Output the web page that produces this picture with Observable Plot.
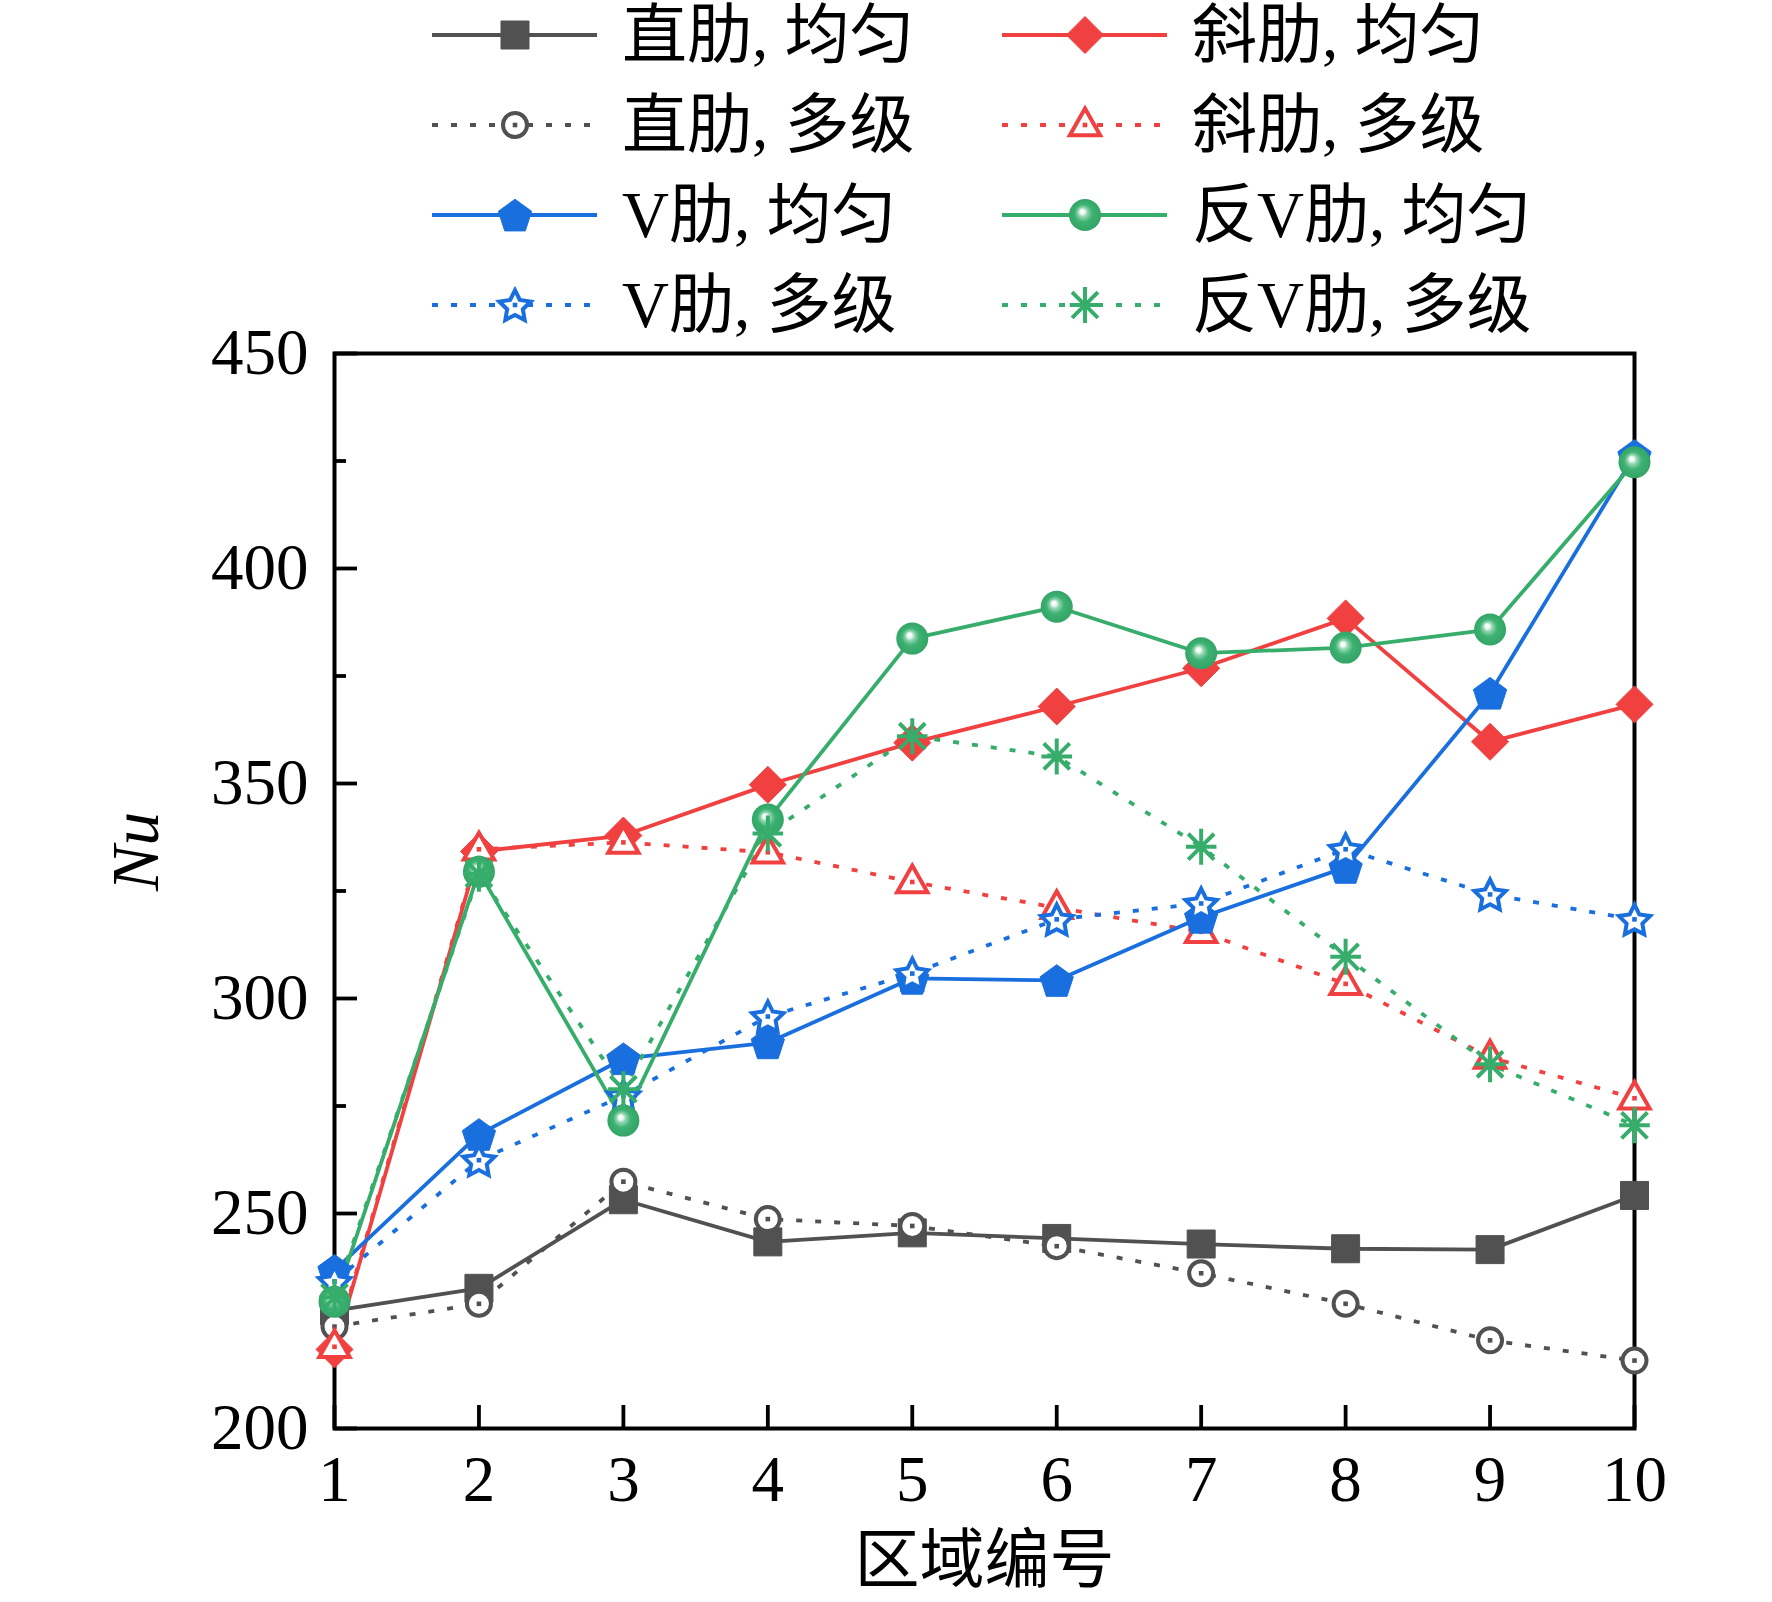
<!DOCTYPE html>
<html>
<head>
<meta charset="utf-8">
<script src="https://cdn.jsdelivr.net/npm/d3@7"></script>
<script src="https://cdn.jsdelivr.net/npm/@observablehq/plot@0.6"></script>
<style>
  body { margin: 0; background: white; width: 1772px; height: 1602px; overflow: hidden; }
  #legend { position: relative; height: 320px; z-index: 2; font-family: "Liberation Serif", "Noto Sans CJK SC", serif; font-size: 65px; color: #000; }
  .item { position: absolute; display: flex; align-items: center; height: 90px; }
  .item span { margin-left: 25px; line-height: 1; white-space: pre; }
  #chart svg { background: transparent !important; overflow: visible; }
</style>
</head>
<body>
<svg width="0" height="0" style="position:absolute">
  <defs>
    <radialGradient id="sphere" cx="50%" cy="50%" r="50%" fx="40%" fy="38%">
      <stop offset="0%" stop-color="#ffffff"/>
      <stop offset="14%" stop-color="#f0faf4"/>
      <stop offset="30%" stop-color="#8fd4ad"/>
      <stop offset="55%" stop-color="#3db273"/>
      <stop offset="100%" stop-color="#33a465"/>
    </radialGradient>
  </defs>
</svg>
<div id="legend"></div>
<div id="chart"></div>
<script>
// ---------- data ----------
const zones = [1, 2, 3, 4, 5, 6, 7, 8, 9, 10];
const straightUniform = [227.4, 232.6, 253.2, 243.4, 245.5, 244.2, 242.9, 241.8, 241.6, 254.2];
const straightMulti   = [223.7, 229.0, 257.4, 248.7, 247.1, 242.4, 236.1, 229.0, 220.5, 215.8];
const slantUniform    = [218.4, 334.2, 337.9, 349.7, 359.5, 367.9, 376.8, 388.4, 359.7, 368.4];
const slantMulti      = [219.0, 334.7, 336.3, 334.0, 327.1, 321.1, 315.5, 303.4, 286.3, 276.8];
const vUniform        = [236.8, 268.4, 286.0, 289.7, 304.7, 304.2, 318.9, 330.5, 371.0, 426.3];
const vMulti          = [234.2, 262.4, 277.4, 295.8, 305.8, 318.4, 322.1, 334.7, 324.2, 318.4];
const invVUniform     = [229.5, 329.5, 271.6, 341.6, 383.7, 391.1, 380.3, 381.6, 385.8, 424.7];
const invVMulti       = [230.5, 329.0, 278.9, 338.4, 361.0, 356.3, 335.3, 309.7, 284.7, 270.5];
const seriesNames = ["直肋, 均匀", "直肋, 多级", "斜肋, 均匀", "斜肋, 多级", "V肋, 均匀", "V肋, 多级", "反V肋, 均匀", "反V肋, 多级"];
const xTicks = [1, 2, 3, 4, 5, 6, 7, 8, 9, 10];
const yTicks = [200, 250, 300, 350, 400, 450];
const yMinorTicks = [225, 275, 325, 375, 425];

// ---------- symbols ----------
const R = s => Math.sqrt(s / Math.PI);
const symSquare = {draw(c, s) { const r = R(s); c.rect(-r, -r, 2 * r, 2 * r); }};
const symDiamond = {draw(c, s) { const r = R(s); c.moveTo(0, -r); c.lineTo(r, 0); c.lineTo(0, r); c.lineTo(-r, 0); c.closePath(); }};
const symPentagon = {draw(c, s) { const r = R(s); for (let i = 0; i < 5; i++) { const a = -Math.PI / 2 + i * 2 * Math.PI / 5; const x = r * Math.cos(a), y = r * Math.sin(a) + r * 0.1; i ? c.lineTo(x, y) : c.moveTo(x, y); } c.closePath(); }};
const symCircle = {draw(c, s) { const r = R(s); c.moveTo(r, 0); c.arc(0, 0, r, 0, 2 * Math.PI); }};
const symTriangle = {draw(c, s) { const r = R(s); c.moveTo(0, -r); c.lineTo(r * 0.92, r * 0.62); c.lineTo(-r * 0.92, r * 0.62); c.closePath(); }};
const symStar = {draw(c, s) { const r = R(s), ri = r * 0.5; for (let i = 0; i < 10; i++) { const a = -Math.PI / 2 + i * Math.PI / 5; const rr = i % 2 ? ri : r; const x = rr * Math.cos(a), y = rr * Math.sin(a) + r * 0.1; i ? c.lineTo(x, y) : c.moveTo(x, y); } c.closePath(); }};
const symAsterisk = {draw(c, s) { const r = R(s), d = r * 0.72; c.moveTo(0, -r); c.lineTo(0, r); c.moveTo(-r * 0.85, 0); c.lineTo(r * 0.85, 0); c.moveTo(-d, -d); c.lineTo(d, d); c.moveTo(d, -d); c.lineTo(-d, d); }};

const GRAY = "#515151", RED = "#F14040", BLUE = "#1A6FDF", GREEN = "#37AD6B";
const DOT = "6,13";
const LW = 3.8;

const styles = [
  {name: seriesNames[0], values: straightUniform, color: GRAY, dash: null, sym: symSquare, r: 14, fill: GRAY, open: false},
  {name: seriesNames[1], values: straightMulti, color: GRAY, dash: DOT, sym: symCircle, r: 12, fill: "white", open: true},
  {name: seriesNames[2], values: slantUniform, color: RED, dash: null, sym: symDiamond, r: 18.5, fill: RED, open: false},
  {name: seriesNames[3], values: slantMulti, color: RED, dash: DOT, sym: symTriangle, r: 16.5, fill: "white", open: true},
  {name: seriesNames[4], values: vUniform, color: BLUE, dash: null, sym: symPentagon, r: 17.5, fill: BLUE, open: false},
  {name: seriesNames[5], values: vMulti, color: BLUE, dash: DOT, sym: symStar, r: 16.5, fill: "white", open: true},
  {name: seriesNames[6], values: invVUniform, color: GREEN, dash: null, sym: symCircle, r: 16, fill: "url(#sphere)", open: false, sphere: true},
  {name: seriesNames[7], values: invVMulti, color: GREEN, dash: DOT, sym: symAsterisk, r: 18, fill: "none", open: false, asterisk: true}
];

const table = styles.flatMap(s => zones.map((z, i) => ({series: s.name, zone: z, nu: s.values[i]})));

// ---------- marks ----------
const lineMarks = styles.map(s => Plot.line(table.filter(d => d.series === s.name), {
  x: "zone", y: "nu", stroke: s.color, strokeWidth: LW,
  strokeDasharray: s.dash, strokeLinecap: "butt"
}));
const dotMarks = styles.flatMap(s => {
  const data = table.filter(d => d.series === s.name);
  const m = [Plot.dot(data, {
    x: "zone", y: "nu", symbol: s.sym, r: s.r,
    fill: s.fill,
    stroke: s.open || s.asterisk ? s.color : (s.sphere ? "none" : s.color),
    strokeWidth: s.open || s.asterisk ? 4 : 1
  })];
  if (s.open) m.push(Plot.dot(data, {x: "zone", y: "nu", symbol: symSquare, r: 2.3, fill: s.color}));
  return m;
});

const chart = Plot.plot({
  width: 1772,
  height: 1282,
  marginLeft: 334,
  marginRight: 138,
  marginTop: 33,
  marginBottom: 174,
  x: {domain: [1, 10], axis: null, label: null},
  y: {domain: [200, 450], axis: null, label: null},
  style: {fontFamily: "Liberation Serif, serif", fontSize: "65px", color: "black", background: "transparent"},
  marks: [
    Plot.axisX({ticks: xTicks, tickSize: -23, strokeWidth: 3.8, fill: "none", label: null}),
    Plot.axisX({ticks: xTicks, tickSize: 0, tickPadding: 26, stroke: "none", label: null, fontSize: 65, tickFormat: d => String(d)}),
    Plot.axisY({ticks: yTicks, tickSize: -23, strokeWidth: 3.8, fill: "none", label: null}),
    Plot.axisY({ticks: yMinorTicks, tickSize: -12, strokeWidth: 3.8, fill: "none", label: null}),
    Plot.axisY({ticks: yTicks, tickSize: 0, tickPadding: 26, stroke: "none", label: null, fontSize: 65, tickFormat: d => String(d)}),
    Plot.frame({stroke: "black", strokeWidth: 4}),
    ...lineMarks,
    ...dotMarks,
    Plot.text(["区域编号"], {text: d => d, frameAnchor: "bottom", dy: 153, fontFamily: "Liberation Serif, Noto Sans CJK SC", fontSize: 65}),
    Plot.text(["Nu"], {text: d => d, frameAnchor: "left", dx: -198, rotate: -90, fontStyle: "italic", fontSize: 68})
  ]
});
document.getElementById("chart").appendChild(chart);

// ---------- legend ----------
const legend = document.getElementById("legend");
const colLeft = [432, 1002];
const order = [[0, 2], [1, 3], [4, 6], [5, 7]];
order.forEach((row, ri) => row.forEach((si, ci) => {
  const s = styles[si];
  const div = document.createElement("div");
  div.className = "item";
  div.style.left = colLeft[ci] + "px";
  div.style.top = (35 + 90 * ri - 45) + "px";
  const p = d3.path();
  s.sym.draw(p, s.r * s.r * Math.PI);
  const fill = s.fill;
  const stroke = s.open || s.asterisk ? s.color : (s.sphere ? "none" : s.color);
  const sw = s.open || s.asterisk ? 4 : 1;
  let center = "";
  if (s.open) { const q = d3.path(); symSquare.draw(q, 2.3 * 2.3 * Math.PI); center = `<path transform="translate(83,45)" d="${q}" fill="${s.color}"/>`; }
  div.innerHTML = `<svg width="165" height="90" style="overflow:visible">
    <line x1="0" x2="165" y1="45" y2="45" stroke="${s.color}" stroke-width="${LW}" ${s.dash ? `stroke-dasharray="${s.dash}"` : ""}/>
    <path transform="translate(83,45)" d="${p}" fill="${fill}" stroke="${stroke}" stroke-width="${sw}"/>${center}
  </svg><span>${s.name}</span>`;
  legend.appendChild(div);
}));
</script>
</body>
</html>
